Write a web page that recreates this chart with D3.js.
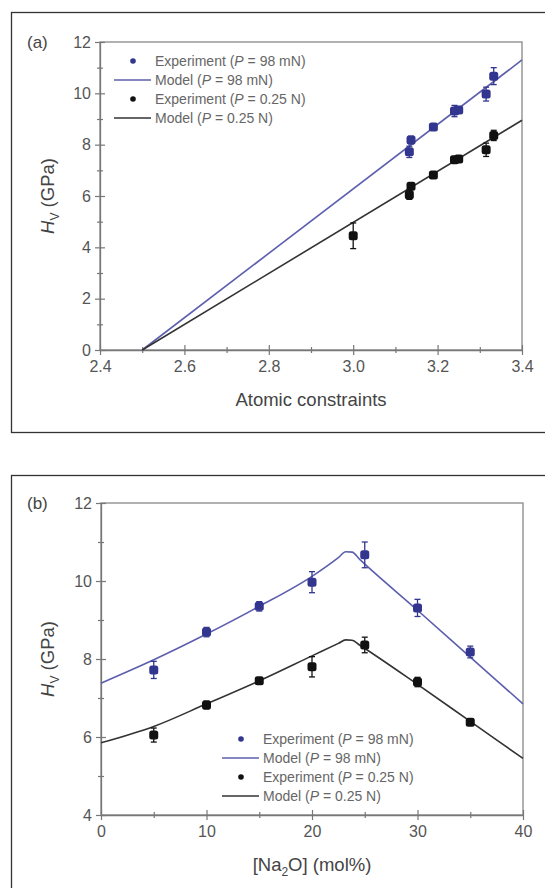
<!DOCTYPE html>
<html>
<head>
<meta charset="utf-8">
<script src="https://cdn.jsdelivr.net/npm/d3@7"></script>
<style>
  body { margin: 0; background: #fff; }
  svg { display: block; font-family: Arial, "Liberation Sans", sans-serif; }
  .frame { fill: none; stroke: #333; stroke-width: 1.3; }
  .box { fill: none; stroke: #888; stroke-width: 1.3; }
  .axis path { stroke: #777; stroke-width: 1.3; }
  .axis line { stroke: #777; stroke-width: 1.2; }
  .axis text { font-size: 16px; fill: #555; }
  .title { font-size: 18.5px; fill: #444; }
  .legend text { font-size: 14px; fill: #666; }
</style>
</head>
<body>
<script>
//pseudo-global data
//compositions (mol% Na2O) and their atomic constraints
var naO = [5, 10, 15, 20, 25, 30, 35];
var constraints = [3.133, 3.19, 3.25, 3.315, 3.333, 3.24, 3.137];
//measured hardness at 98 mN (blue) and 0.25 N (black)
var hvBlue = [7.72, 8.69, 9.35, 9.97, 10.67, 9.31, 8.18];
var errBlue = [0.22, 0.12, 0.12, 0.27, 0.33, 0.22, 0.15];
var hvBlack = [6.05, 6.82, 7.44, 7.8, 8.36, 7.41, 6.38];
var errBlack = [0.18, 0.1, 0.08, 0.26, 0.2, 0.12, 0.08];
//extra 0.25 N point only shown in panel (a)
var extraConstraint = [3.0];
var extraHv = [4.45];
var extraErr = [0.5];

//model lines, panel (a)
var modelAx = [2.5, 3.4];
var modelAblue = [0, 11.3];
var modelAblack = [0, 8.95];

//model lines, panel (b)
var modelBx = [0, 5, 10, 15, 20, 22.5, 23.2, 23.8, 24.5, 30, 35, 40];
var modelBblue = [7.38, 7.98, 8.64, 9.35, 10.12, 10.6, 10.75, 10.74, 10.56, 9.25, 8.05, 6.85];
var modelBblack = [5.85, 6.27, 6.85, 7.44, 8.08, 8.4, 8.49, 8.48, 8.36, 7.35, 6.4, 5.45];

//tick values
var ticksAx = [2.4, 2.6, 2.8, 3.0, 3.2, 3.4];
var ticksAy = [0, 2, 4, 6, 8, 10, 12];
var ticksBx = [0, 10, 20, 30, 40];
var ticksBy = [4, 6, 8, 10, 12];

var legendLabels = ["Experiment (P = 98 mN)", "Model (P = 98 mN)", "Experiment (P = 0.25 N)", "Model (P = 0.25 N)"];

var blueDot = "#32368f", blueLine = "#5d5fae",
    blackDot = "#111", blackLine = "#333";

var svg = d3.select("body").append("svg")
    .attr("width", 545)
    .attr("height", 888);

//outer frames
svg.append("rect").attr("class", "frame")
    .attr("x", 11.5).attr("y", 12.5).attr("width", 560).attr("height", 420);
svg.append("rect").attr("class", "frame")
    .attr("x", 11.5).attr("y", 475.5).attr("width", 560).attr("height", 440);

//panel (a)
var xA = d3.scaleLinear().domain([2.4, 3.4]).range([100, 522]);
var yA = d3.scaleLinear().domain([0, 12]).range([350, 42]);
var expA = constraints.map(function (c, i) { return { x: c, y: hvBlue[i], e: errBlue[i] }; });
var expAk = constraints.map(function (c, i) { return { x: c, y: hvBlack[i], e: errBlack[i] }; })
    .concat(extraConstraint.map(function (c, i) { return { x: c, y: extraHv[i], e: extraErr[i] }; }));

drawPanel({
    x: xA, y: yA,
    xTicks: ticksAx, yTicks: ticksAy,
    xMinor: d3.range(2.5, 3.4, 0.2), yMinor: d3.range(1, 12, 2),
    xFormat: d3.format(".1f"), yFormat: d3.format("d"),
    label: "(a)",
    xTitle: function (t) { t.text("Atomic constraints"); },
    lines: [
        { xs: modelAx, ys: modelAblue, color: blueLine },
        { xs: modelAx, ys: modelAblack, color: blackLine }
    ],
    points: [
        { data: expAk, color: blackDot },
        { data: expA, color: blueDot }
    ],
    legend: { x: 114, y: 61 }
});

//panel (b)
var xB = d3.scaleLinear().domain([0, 40]).range([101, 523]);
var yB = d3.scaleLinear().domain([4, 12]).range([815, 503]);
var expB = naO.map(function (n, i) { return { x: n, y: hvBlue[i], e: errBlue[i] }; });
var expBk = naO.map(function (n, i) { return { x: n, y: hvBlack[i], e: errBlack[i] }; });

drawPanel({
    x: xB, y: yB,
    xTicks: ticksBx, yTicks: ticksBy,
    xMinor: d3.range(5, 40, 10), yMinor: d3.range(5, 12, 2),
    xFormat: d3.format("d"), yFormat: d3.format("d"),
    label: "(b)",
    xTitle: function (t) {
        t.append("tspan").text("[Na");
        t.append("tspan").attr("font-size", "12px").attr("dy", 5).text("2");
        t.append("tspan").attr("dy", -5).text("O] (mol%)");
    },
    lines: [
        { xs: modelBx, ys: modelBblue, color: blueLine },
        { xs: modelBx, ys: modelBblack, color: blackLine }
    ],
    points: [
        { data: expBk, color: blackDot },
        { data: expB, color: blueDot }
    ],
    legend: { x: 222, y: 739 }
});

function drawPanel(p) {
    var x = p.x, y = p.y;
    var x0 = x.range()[0], x1 = x.range()[1],
        y0 = y.range()[0], y1 = y.range()[1];

    //plot box
    svg.append("rect").attr("class", "box")
        .attr("x", x0).attr("y", y1).attr("width", x1 - x0).attr("height", y0 - y1);

    //minor ticks
    svg.append("g").attr("class", "axis")
        .attr("transform", "translate(0," + y0 + ")")
        .call(d3.axisBottom(x).tickValues(p.xMinor).tickSize(3).tickFormat(""))
        .call(function (g) { g.select(".domain").remove(); g.selectAll("line").attr("y1", -3); });
    svg.append("g").attr("class", "axis")
        .attr("transform", "translate(" + x0 + ",0)")
        .call(d3.axisLeft(y).tickValues(p.yMinor).tickSize(3).tickFormat(""))
        .call(function (g) { g.select(".domain").remove(); g.selectAll("line").attr("x1", 3); });

    //major axes
    svg.append("g").attr("class", "axis")
        .attr("transform", "translate(0," + y0 + ")")
        .call(d3.axisBottom(x).tickValues(p.xTicks).tickSize(5).tickSizeOuter(0).tickPadding(6).tickFormat(p.xFormat))
        .call(function (g) { g.selectAll("line").attr("y1", -5); });
    svg.append("g").attr("class", "axis")
        .attr("transform", "translate(" + x0 + ",0)")
        .call(d3.axisLeft(y).tickValues(p.yTicks).tickSize(5).tickSizeOuter(0).tickPadding(4).tickFormat(p.yFormat))
        .call(function (g) { g.selectAll("line").attr("x1", 5); });

    //model lines
    p.lines.forEach(function (l) {
        var pts = l.xs.map(function (v, i) { return [v, l.ys[i]]; });
        svg.append("path")
            .datum(pts)
            .attr("fill", "none")
            .attr("stroke", l.color)
            .attr("stroke-width", 1.6)
            .attr("d", d3.line()
                .x(function (d) { return x(d[0]); })
                .y(function (d) { return y(d[1]); })
                .curve(d3.curveMonotoneX));
    });

    //experiment points with error bars
    p.points.forEach(function (s) {
        var g = svg.append("g");
        var bars = g.selectAll(".err").data(s.data).enter().append("g")
            .attr("stroke", s.color).attr("stroke-width", 1.3);
        bars.append("line")
            .attr("x1", function (d) { return x(d.x); })
            .attr("x2", function (d) { return x(d.x); })
            .attr("y1", function (d) { return y(d.y - d.e); })
            .attr("y2", function (d) { return y(d.y + d.e); });
        [-1, 1].forEach(function (sg) {
            bars.append("line")
                .attr("x1", function (d) { return x(d.x) - 3; })
                .attr("x2", function (d) { return x(d.x) + 3; })
                .attr("y1", function (d) { return y(d.y + sg * d.e); })
                .attr("y2", function (d) { return y(d.y + sg * d.e); });
        });
        g.selectAll(".pt").data(s.data).enter().append("rect")
            .attr("x", function (d) { return x(d.x) - 4.5; })
            .attr("y", function (d) { return y(d.y) - 4.5; })
            .attr("width", 9).attr("height", 9).attr("rx", 2.5)
            .attr("fill", s.color);
    });

    //panel label
    svg.append("text").attr("class", "title")
        .attr("x", 27).attr("y", y1 + 6)
        .style("font-size", "17px")
        .text(p.label);

    //axis titles
    var xt = svg.append("text").attr("class", "title")
        .attr("x", (x0 + x1) / 2).attr("y", y0 + 56)
        .attr("text-anchor", "middle");
    p.xTitle(xt);

    var yt = svg.append("text").attr("class", "title")
        .attr("transform", "translate(54," + (y0 + y1) / 2 + ") rotate(-90)")
        .attr("text-anchor", "middle");
    yt.append("tspan").attr("font-style", "italic").text("H");
    yt.append("tspan").attr("font-size", "12px").attr("dy", 5).text("V");
    yt.append("tspan").attr("dy", -5).text(" (GPa)");

    //legend
    var lg = svg.append("g").attr("class", "legend")
        .attr("transform", "translate(" + p.legend.x + "," + p.legend.y + ")");
    var colors = [blueDot, blueLine, blackDot, blackLine];
    legendLabels.forEach(function (lab, i) {
        var row = lg.append("g").attr("transform", "translate(0," + i * 19 + ")");
        if (i % 2 === 0) {
            row.append("circle").attr("cx", 19).attr("cy", 0).attr("r", 2.8).attr("fill", colors[i]);
        } else {
            row.append("line").attr("x1", 0).attr("x2", 37).attr("y1", 0).attr("y2", 0)
                .attr("stroke", colors[i]).attr("stroke-width", 1.5);
        }
        var t = row.append("text").attr("x", 41).attr("y", 5);
        var parts = lab.split("P");
        t.append("tspan").text(parts[0]);
        t.append("tspan").attr("font-style", "italic").text("P");
        t.append("tspan").text(parts[1]);
    });
}
</script>
</body>
</html>
